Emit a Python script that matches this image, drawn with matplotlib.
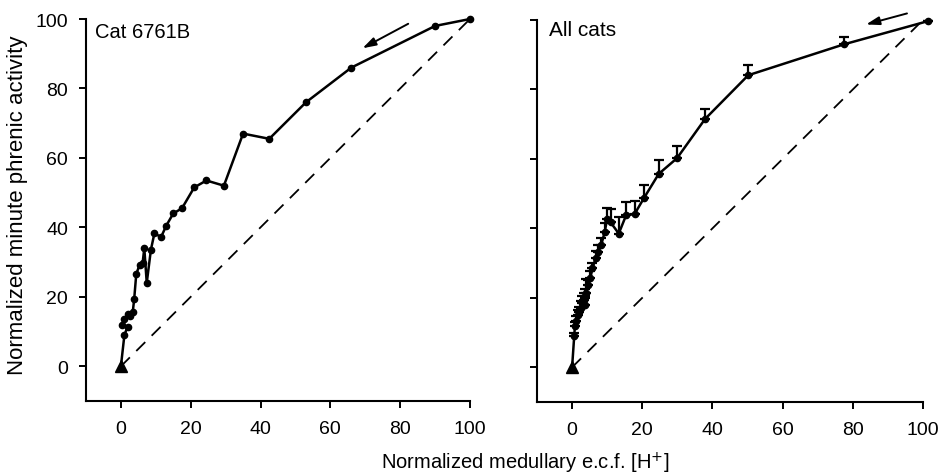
import matplotlib
matplotlib.use("Agg")
import matplotlib.pyplot as plt
import numpy as np

plt.rcParams['font.family'] = ['Liberation Sans', 'DejaVu Sans']

# ---- Data: Cat 6761B ----
cat_x = [100, 90, 66, 53, 42.5, 35, 29.5, 24.5, 21, 17.5, 15, 13, 11.5, 9.6, 8.6,
         7.4, 6.7, 6.2, 5.4, 4.4, 3.8, 3.4, 2.6, 1.9, 1.0, 0.2, 1.9, 1.0, 0]
cat_y = [100, 98, 86, 76, 65.5, 67, 52, 53.5, 51.5, 45.5, 44, 40.5, 37.2, 38.3, 33.6,
         24, 34, 29.6, 29.3, 26.6, 19.3, 15.7, 14.5, 15, 13.5, 12, 11.4, 9, 0]

# ---- Data: All cats (mean + upper SE) ----
all_x = [101.5, 77.5, 50.2, 37.9, 29.9, 24.7, 20.4, 17.8, 15.4, 13.3, 11.0, 10.0, 9.3,
         8.3, 7.4, 6.7, 5.8, 5.2, 4.6, 4.0, 3.6, 3.3, 2.9, 3.8, 2.5, 2.0, 1.6, 1.2,
         0.8, 0.6, 0]
all_y = [99.7, 93, 84.1, 71.5, 60.2, 55.7, 48.6, 44.1, 43.8, 38.5, 41.7, 42.8, 39,
         35.2, 33.3, 31.4, 28.5, 25.6, 23.7, 21.5, 20.4, 19.4, 18.5, 18, 17, 16, 15,
         13.3, 11.8, 8.9, 0]
all_err = [0, 2.1, 3, 2.9, 3.4, 4, 4, 3.8, 3.8, 4.8, 4, 3, 2.5, 2, 2, 2, 1.5, 2,
           1.5, 3.8, 2, 2, 2, 2, 2, 1.5, 1.5, 1.5, 1.2, 1, 0]

ticks = [0, 20, 40, 60, 80, 100]
xlabel = "Normalized medullary e.c.f. [H$^{+}$]"
ylabel = "Normalized minute phrenic activity"

fig = plt.figure(figsize=(9.4, 4.77), dpi=100)
ax1 = fig.add_axes([86/940, 1-402/477, (470-86)/940, (402-20)/477])
ax2 = fig.add_axes([537/940, 1-403/477, (923-537)/940, (403-21)/477])

for ax in (ax1, ax2):
    ax.set_xlim(-10, 100)
    ax.set_ylim(-10, 100)
    ax.spines['top'].set_visible(False)
    ax.spines['right'].set_visible(False)
    for s in ('left', 'bottom'):
        ax.spines[s].set_linewidth(1.5)
    ax.set_xticks(ticks)
    ax.set_yticks(ticks)
    ax.tick_params(direction='out', length=5, width=1.4, labelsize=14)
    ax.tick_params(axis='x', pad=9)
    ax.tick_params(axis='y', pad=8)
    ax.plot([0, 100], [0, 100], color='black', lw=1.3, ls=(0, (7, 5)), clip_on=False)
    ax.plot([0], [0], marker='^', color='black', ms=9, clip_on=False, zorder=5)

ax2.tick_params(labelleft=False)

# Left panel
ax1.plot(cat_x[:-1], cat_y[:-1], color='black', lw=1.8, marker='o', ms=4.5, clip_on=False)
ax1.plot(cat_x[-2:], cat_y[-2:], color='black', lw=1.8, clip_on=False)
ax1.text(-7.5, 96.5, "Cat 6761B", fontsize=14.5, va='center', ha='left')
ax1.annotate("", xy=(68.5, 91.2), xytext=(83, 99),
             arrowprops=dict(arrowstyle='-|>,head_length=0.8,head_width=0.25',
                             color='black', lw=1.4), annotation_clip=False)

# Right panel
lower = [0] * len(all_err)
ax2.errorbar(all_x[:-1], all_y[:-1], yerr=[lower[:-1], all_err[:-1]], color='black',
             lw=1.8, marker='o', ms=4.5, capsize=3.5, capthick=1.6, elinewidth=1.6,
             clip_on=False)
ax2.plot(all_x[-2:], all_y[-2:], color='black', lw=1.8, clip_on=False)
ax2.text(-6.7, 97.3, "All cats", fontsize=15, va='center', ha='left')
ax2.annotate("", xy=(83, 98.5), xytext=(96.2, 102.1),
             arrowprops=dict(arrowstyle='-|>,head_length=0.8,head_width=0.25',
                             color='black', lw=1.4), annotation_clip=False)

fig.text(525/940, 1-463/477, xlabel, fontsize=14.5, ha='center', va='center')
fig.text(18/940, 1-205/477, ylabel, fontsize=16, ha='center', va='center', rotation=90)

fig.savefig("out.png", dpi=100)
